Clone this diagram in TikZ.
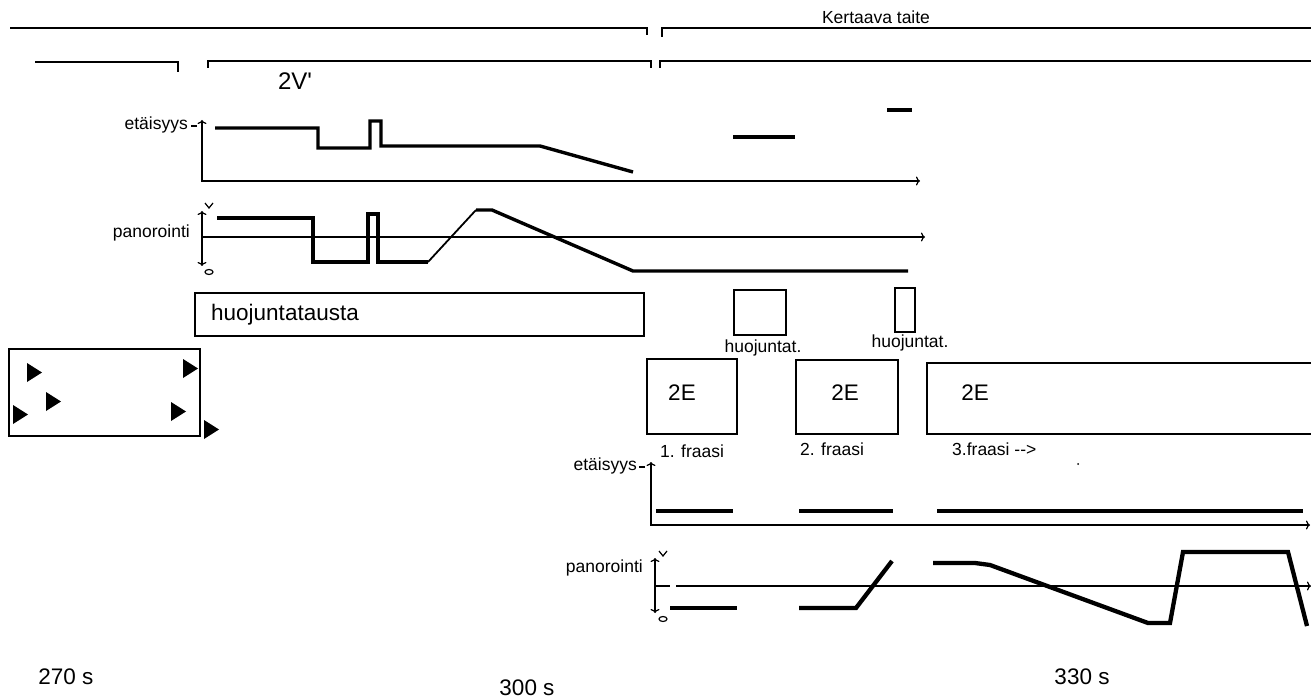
\documentclass[tikz,border=0pt]{standalone}
\usepackage{fontspec}
\setmainfont{Liberation Sans}
\usetikzlibrary{arrows.meta}
\begin{document}
\begin{tikzpicture}[x=1pt,y=-1pt,
  ln/.style={line width=1.2pt},
  data/.style={line width=3.4pt},
  dataw/.style={line width=4.3pt},
  mid/.style={line width=1.8pt},
  ax/.style={ln,-{To[length=4pt,width=9pt]}},
  axx/.style={ln,{To[length=4pt,width=9pt]}-{To[length=4pt,width=9pt]}},
  box/.style={draw,line width=1.2pt,inner sep=0pt},
  small/.style={font=\fontsize{17.5}{19}\selectfont,inner sep=0pt},
  big/.style={font=\fontsize{22.5}{25}\selectfont,inner sep=0pt},
  tri/.style={fill=black,draw=none}
]
\useasboundingbox (0,0) rectangle (1311,700);

% top brackets
\draw[ln] (10,28) -- (647,28) -- (647,35);
\draw[ln] (662,37) -- (662,28) -- (1311,28);
\draw[ln] (35,62) -- (178,62) -- (178,72);
\draw[ln] (208,68) -- (208,61) -- (651,61) -- (651,68);
\draw[ln] (660,68) -- (660,61) -- (1311,61);
\node[small] (kt) at (876,17) {Kertaava taite};
\node[big,font=\fontsize{24}{26}\selectfont] (v2) at (295,81) {2V\textquotesingle};

% upper etaisyys graph
\node[small,anchor=east] (e1) at (188,125) {etäisyys};
\draw[ln] (191,126) -- (197,126);
\draw[axx] (202,120) -- (202,181) -- (920,181);
\draw[data] (215,128) -- (318,128) -- (318,148) -- (370,148) -- (370,121) -- (381,121) -- (381,146) -- (540,146) -- (633,172);
\draw[data] (733,137) -- (795,137);
\draw[data] (887,110) -- (912,110);

% upper panorointi graph
\node[small,anchor=east] (p1) at (190,233) {panorointi};
\draw[axx] (202,211) -- (202,266);
\draw[ln] (205,203) -- (209,208) -- (213,203);
\draw[ln] (209,272) ellipse [x radius=4, y radius=2.5];
\draw[ax] (202,237) -- (925,237);
\draw[data] (217,218) -- (313,218) -- (313,262) -- (368,262) -- (368,214) -- (378,214) -- (378,262) -- (428,262);
\draw[mid] (428,262) -- (476,210);
\draw[data] (476,210) -- (492,210) -- (633,271) -- (908,271);

% boxes
\node[box,minimum width=449,minimum height=43] (hb) at (419.5,314.5) {};
\node[big,anchor=west] (ht) at (211,315) {huojuntatausta};
\node[box,minimum width=52,minimum height=45] (sb1) at (760,312.5) {};
\node[small] (sl1) at (763,348) {huojuntat.};
\node[box,minimum width=20,minimum height=44] (sb2) at (905,310) {};
\node[small] (sl2) at (910,343) {huojuntat.};

% triangles box
\node[box,minimum width=191,minimum height=87] (tb) at (104.5,392.5) {};
\foreach \x/\y in {27/363, 46/392, 13/405, 183/359, 171/402, 204/420}
  \fill (\x,\y) -- (\x+15,\y+9.5) -- (\x,\y+19) -- cycle;

% 2E boxes
\node[box,minimum width=90,minimum height=75] (e2a) at (692,396.5) {};
\node[big] (t2a) at (682,393) {2E};
\node[box,minimum width=102,minimum height=74] (e2b) at (847,397) {};
\node[big] (t2b) at (845,393) {2E};
\draw[ln] (1311,363) -- (927,363) -- (927,434) -- (1311,434);
\node[big] (t2c) at (975,393) {2E};
\node[small] (f1) at (692,451) {1. fraasi};
\node[small] (f2) at (832,449) {2. fraasi};
\node[small,anchor=west] (f3) at (952,449) {3.fraasi -{}->};
\fill (1078,464) circle (1);

% lower etaisyys graph
\node[small,anchor=east] (e2) at (637,466) {etäisyys};
\draw[ln] (639,467) -- (645,467);
\draw[axx] (651,462) -- (651,525) -- (1310,525);
\draw[dataw] (656,511) -- (733,511);
\draw[dataw] (799,511) -- (893,511);
\draw[dataw] (937,511) -- (1303,511);

% lower panorointi graph
\node[small,anchor=east] (p2) at (643,568) {panorointi};
\draw[axx] (655,558) -- (655,613);
\draw[ln] (659,551) -- (663,556) -- (667,551);
\draw[ln] (663,619) ellipse [x radius=4, y radius=2.5];
\draw[ln] (655,586) -- (670,586);
\draw[ax] (676,586) -- (1311,586);
\draw[dataw] (670,608) -- (737,608);
\draw[dataw] (799,608) -- (856,608) -- (892,561);
\draw[dataw] (933,563) -- (975,563) -- (990,565) -- (1148,623) -- (1170,623) -- (1183,552) -- (1288,552) -- (1307,626);

% time labels
\node[big,anchor=base] (s270) at (66,684) {270 s};
\node[big,anchor=base] (s300) at (527,695) {300 s};
\node[big,anchor=base] (s330) at (1082,684) {330 s};
\end{tikzpicture}
\end{document}
